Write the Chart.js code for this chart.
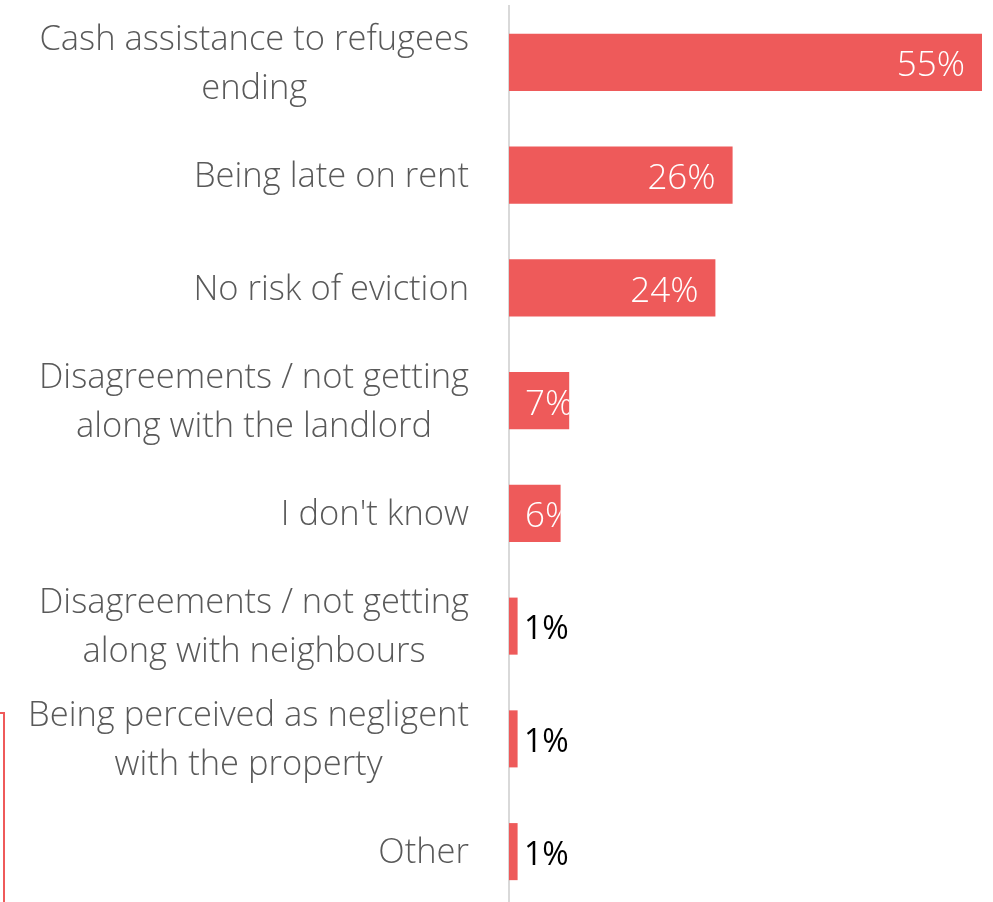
<!DOCTYPE html>
<html>
<head>
<meta charset="utf-8">
<script src="https://cdn.jsdelivr.net/npm/chart.js@4"></script>
<style>
  html, body { margin: 0; padding: 0; background: #ffffff; overflow: hidden; }
  #wrap { position: relative; width: 993px; height: 908px; }
  #frame-edge {
    position: absolute; left: -20px; top: 712px; width: 23px; height: 260px;
    border-top: 2px solid #ef5a5a; border-right: 2px solid #ef5a5a;
  }
</style>
</head>
<body>
<div id="wrap">
  <canvas id="chart" width="993" height="908"></canvas>
  <div id="frame-edge"></div>
</div>
<script>
// Reasons cited as eviction risks, share of respondents (%)
const categories = [
  ["Cash assistance to refugees", "ending"],
  "Being late on rent",
  "No risk of eviction",
  ["Disagreements / not getting", "along with the landlord"],
  "I don't know",
  ["Disagreements / not getting", "along with neighbours"],
  ["Being perceived as negligent", "with the property"],
  "Other"
];
const shares = [55, 26, 24, 7, 6, 1, 1, 1];
const valueLabels = ["55%", "26%", "24%", "7%", "6%", "1%", "1%", "1%"];

const BAR_RED = "#ee5a5a";
const LABEL_FONT = "'Open Sans', 'Segoe UI', sans-serif";
const CATEGORY_FONT_SIZE = 34.5;
const CATEGORY_LINE_HEIGHT = 49;
const CATEGORY_GAP = 40;

// Category labels: each block sits flush against the axis, its lines centred on one another
const categoryLabelPlugin = {
  id: "categoryLabels",
  afterDraw(chart) {
    const ctx = chart.ctx;
    const yScale = chart.scales.y;
    ctx.save();
    ctx.font = "300 " + CATEGORY_FONT_SIZE + "px " + LABEL_FONT;
    ctx.fillStyle = "#595959";
    ctx.textAlign = "center";
    ctx.textBaseline = "middle";
    const rightEdge = yScale.right - CATEGORY_GAP;
    categories.forEach((label, i) => {
      const lines = Array.isArray(label) ? label : [label];
      const blockWidth = Math.max(...lines.map(l => ctx.measureText(l).width));
      const cx = rightEdge - blockWidth / 2;
      const cy = yScale.getPixelForTick(i) + 2;
      const firstY = cy - (lines.length - 1) * CATEGORY_LINE_HEIGHT / 2;
      lines.forEach((line, k) => {
        ctx.fillText(line, cx, firstY + k * CATEGORY_LINE_HEIGHT);
      });
    });
    ctx.restore();
  }
};

// Value labels: white inside the bar near its end, black just past tiny bars
const valueLabelPlugin = {
  id: "valueLabels",
  afterDatasetsDraw(chart) {
    const ctx = chart.ctx;
    const meta = chart.getDatasetMeta(0);
    meta.data.forEach((bar, i) => {
      const v = shares[i];
      const text = valueLabels[i];
      const left = bar.base;
      const right = bar.x;
      const top = bar.y - bar.height / 2;
      const h = bar.height;
      ctx.save();
      ctx.textBaseline = "middle";
      if (v >= 5) {
        ctx.font = "300 35px " + LABEL_FONT;
        const w = ctx.measureText(text).width;
        const x = Math.max(right - 17 - w, left + 16);
        ctx.beginPath();
        ctx.rect(left, top, right - left, h);
        ctx.clip();
        ctx.fillStyle = "#ffffff";
        ctx.textAlign = "left";
        ctx.fillText(text, x, bar.y + 4);
      } else {
        ctx.font = "400 32px " + LABEL_FONT;
        ctx.fillStyle = "#000000";
        ctx.textAlign = "left";
        ctx.fillText(text, left + 15, bar.y + 4);
      }
      ctx.restore();
    });
  }
};

new Chart(document.getElementById("chart"), {
  type: "bar",
  data: {
    labels: categories,
    datasets: [{
      data: shares,
      backgroundColor: BAR_RED,
      borderWidth: 0,
      barPercentage: 0.506,
      categoryPercentage: 1.0
    }]
  },
  options: {
    indexAxis: "y",
    responsive: false,
    animation: false,
    layout: { padding: { top: 6, right: 11, bottom: 0, left: 0 } },
    plugins: {
      legend: { display: false },
      tooltip: { enabled: false }
    },
    scales: {
      x: {
        display: false,
        min: 0,
        max: 55
      },
      y: {
        afterFit(scale) {
          scale.width = 509;
          scale.paddingTop = 0;
          scale.paddingBottom = 0;
        },
        grid: { display: false, drawTicks: false },
        border: { display: true, color: "#d9d9d9", width: 2 },
        ticks: { display: false }
      }
    }
  },
  plugins: [valueLabelPlugin, categoryLabelPlugin]
});
</script>
</body>
</html>
